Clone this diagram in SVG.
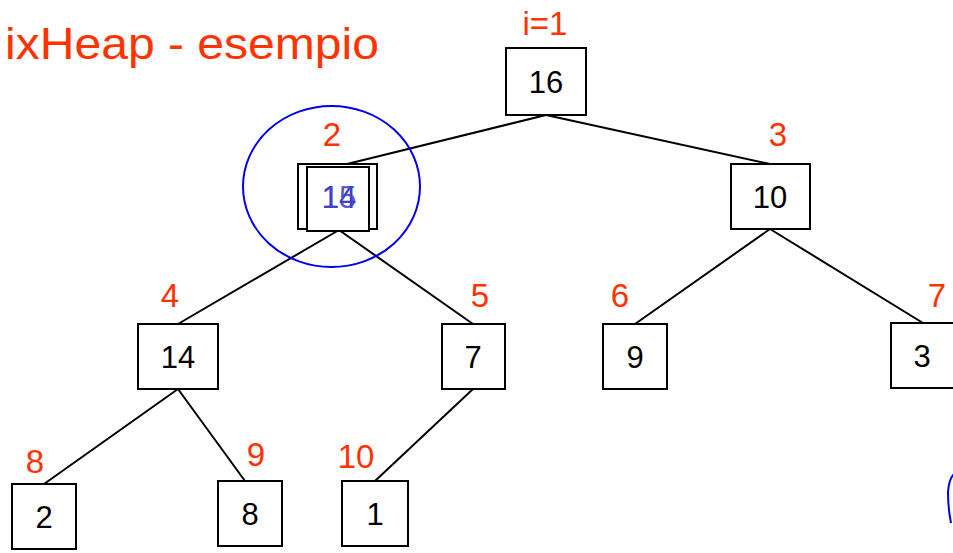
<svg xmlns="http://www.w3.org/2000/svg" width="953" height="553" viewBox="0 0 953 553">
<style>
.box{fill:#fff;stroke:#000;stroke-width:2}
.v{font-family:"Liberation Sans","DejaVu Sans",sans-serif;font-size:31px;fill:#000;text-anchor:middle}
.idx{font-family:"Liberation Sans","DejaVu Sans",sans-serif;font-size:33px;fill:#ff3300;text-anchor:middle}
.e{stroke:#000;stroke-width:2;fill:none}
</style>
<rect width="953" height="553" fill="#fff"/>
<text x="5" y="59" font-family="Liberation Sans, DejaVu Sans, sans-serif" font-size="44" fill="#ff3300" textLength="374" lengthAdjust="spacingAndGlyphs">ixHeap - esempio</text>
<g id="connectors">
<line class="e" x1="546" y1="115" x2="339" y2="166"/>
<line class="e" x1="546" y1="115" x2="770" y2="164"/>
<line class="e" x1="339" y1="230" x2="178" y2="324"/>
<line class="e" x1="339" y1="230" x2="473" y2="324"/>
<line class="e" x1="770" y1="229" x2="635" y2="324"/>
<line class="e" x1="770" y1="229" x2="923" y2="323"/>
<line class="e" x1="178" y1="389" x2="44" y2="484"/>
<line class="e" x1="178" y1="389" x2="245" y2="481"/>
<line class="e" x1="473" y1="389" x2="375" y2="481"/>
</g>
<g id="n1"><rect class="box" x="506" y="48" width="80" height="67"/><text class="v" x="546" y="93">16</text><text class="idx" x="545" y="35">i=1</text></g>
<g id="n2"><rect class="box" x="298" y="164" width="79" height="65"/><rect class="box" x="307" y="167" width="62" height="64"/><text class="v" x="339" y="208" style="fill:#4040c8">14</text><text class="v" x="339" y="208" style="fill:#4040c8" opacity="0.85">15</text><text class="idx" x="332" y="146">2</text>
<ellipse cx="331.5" cy="186.5" rx="88.5" ry="80.5" fill="none" stroke="#0000ee" stroke-width="2"/></g>
<g id="n3"><rect class="box" x="731" y="164" width="79" height="65"/><text class="v" x="770" y="208">10</text><text class="idx" x="778" y="146">3</text></g>
<g id="n4"><rect class="box" x="138" y="324" width="80" height="65"/><text class="v" x="178" y="368">14</text><text class="idx" x="170" y="307">4</text></g>
<g id="n5"><rect class="box" x="442" y="324" width="63" height="65"/><text class="v" x="473" y="368">7</text><text class="idx" x="480" y="307">5</text></g>
<g id="n6"><rect class="box" x="603" y="324" width="64" height="65"/><text class="v" x="635" y="368">9</text><text class="idx" x="620" y="307">6</text></g>
<g id="n7"><rect class="box" x="891" y="323" width="70" height="65"/><text class="v" x="922" y="367">3</text><text class="idx" x="937" y="307">7</text></g>
<g id="n8"><rect class="box" x="12" y="484" width="64" height="65"/><text class="v" x="44" y="528">2</text><text class="idx" x="35" y="473">8</text></g>
<g id="n9"><rect class="box" x="218" y="481" width="64" height="65"/><text class="v" x="250" y="525">8</text><text class="idx" x="256" y="466">9</text></g>
<g id="n10"><rect class="box" x="342" y="481" width="66" height="65"/><text class="v" x="375" y="525">1</text><text class="idx" x="356" y="468">10</text></g>
<path d="M955 473 Q949 478 948 492 Q948 508 951 523" fill="none" stroke="#0000ee" stroke-width="2"/>
</svg>
